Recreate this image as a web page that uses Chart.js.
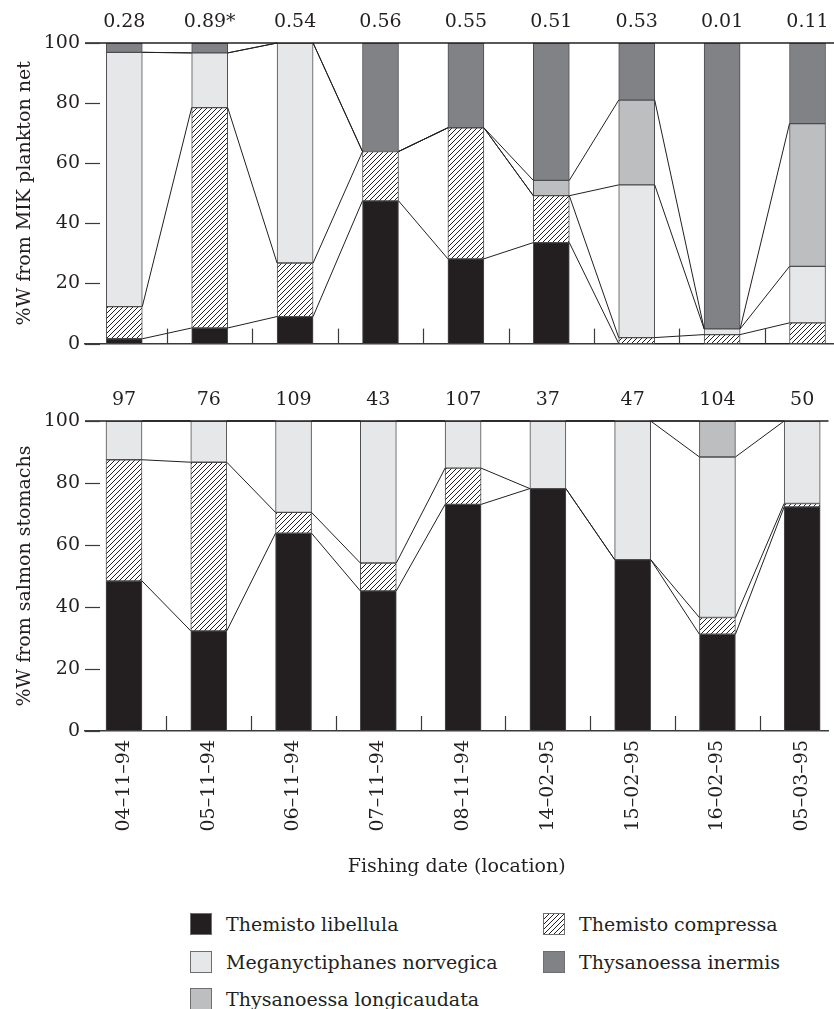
<!DOCTYPE html>
<html><head><meta charset="utf-8">
<script src="https://cdn.jsdelivr.net/npm/chart.js@4"></script>
<style>
html,body{margin:0;padding:0;background:#fff;}
#wrap{position:relative;width:834px;height:1009px;overflow:hidden;font-family:"DejaVu Serif",serif;color:#231f20;}
#top{position:absolute;left:0;top:0;width:834px;height:360px;}
#bot{position:absolute;left:0;top:360px;width:834px;height:520px;}
.li{position:absolute;display:flex;align-items:center;font-size:19px;white-space:nowrap;height:22px;}
.sw{box-sizing:border-box;width:22px;height:22px;border:1px solid #6d6e71;margin-right:14px;flex:none;}
</style></head>
<body><div id="wrap">
<div id="top"><canvas id="c1"></canvas></div>
<div id="bot"><canvas id="c2"></canvas></div>
<div id="legend"></div>
</div>
<script>
// ---- data ----
const dates = ['04–11–94','05–11–94','06–11–94','07–11–94','08–11–94','14–02–95','15–02–95','16–02–95','05–03–95'];
const species = ['Themisto libellula','Themisto compressa','Meganyctiphanes norvegica','Thysanoessa longicaudata','Thysanoessa inermis'];
// MIK plankton net (%W)
const netLibellula   = [1.6, 5.2, 9.0, 47.5, 28.2, 33.6, 0, 0, 0];
const netCompressa   = [10.7, 73.3, 17.8, 16.4, 43.6, 15.6, 2.0, 3.0, 6.9];
const netMeganyct    = [84.6, 18.2, 73.2, 0, 0, 0, 50.8, 1.9, 18.8];
const netLongicaud   = [0, 0, 0, 0, 0, 5.1, 28.2, 0, 47.5];
const netInermis     = [3.1, 3.3, 0, 36.1, 28.2, 45.7, 19.0, 95.1, 26.8];
const netTotals      = ['0.28','0.89*','0.54','0.56','0.55','0.51','0.53','0.01','0.11'];
// salmon stomachs (%W)
const stoLibellula   = [48.4, 32.3, 63.8, 45.2, 73.1, 78.2, 55.3, 31.2, 72.3];
const stoCompressa   = [39.1, 54.4, 6.7, 9.0, 11.7, 0, 0, 5.4, 1.1];
const stoMeganyct    = [12.5, 13.3, 29.5, 45.8, 15.2, 21.8, 44.7, 51.8, 26.6];
const stoLongicaud   = [0, 0, 0, 0, 0, 0, 0, 11.6, 0];
const stoInermis     = [0, 0, 0, 0, 0, 0, 0, 0, 0];
const stoCounts      = ['97','76','109','43','107','37','47','104','50'];
const yTicks = [0, 20, 40, 60, 80, 100];

// ---- styles ----
const INK = '#231f20';
const FONT = '"DejaVu Serif", serif';
const FS = 19;
const BAR = 36;
const XMIN = -0.46, XMAX = 8.31;

function hatchPattern(){
  const c = document.createElement('canvas'); c.width = c.height = 5;
  const g = c.getContext('2d');
  g.fillStyle = '#fff'; g.fillRect(0,0,5,5);
  g.strokeStyle = INK; g.lineWidth = 1;
  g.beginPath();
  g.moveTo(-1,6); g.lineTo(6,-1);
  g.moveTo(-1,1); g.lineTo(1,-1);
  g.moveTo(4,6); g.lineTo(6,4);
  g.stroke();
  return g.createPattern(c,'repeat');
}
const HATCH = hatchPattern();
const colors = [INK, HATCH, '#e6e7e8', '#bcbec0', '#808285'];

Chart.defaults.font.family = FONT;
Chart.defaults.color = INK;

const frame = {
  id: 'frame',
  afterDatasetsDraw(chart){
    const {ctx, chartArea:a, scales:{x, y}} = chart;
    ctx.save();
    ctx.strokeStyle = INK; ctx.lineWidth = 1;
    // connectors between bars
    const sets = chart.data.datasets;
    for (let s = 0; s < sets.length - 1; s++){
      const cum = k => sets.slice(0, s+1).reduce((acc, d) => acc + (d.values[k] || 0), 0);
      for (let i = 0; i < chart.data.labels.length - 1; i++){
        ctx.beginPath();
        ctx.moveTo(x.getPixelForValue(i) + BAR/2, y.getPixelForValue(cum(i)));
        ctx.lineTo(x.getPixelForValue(i+1) - BAR/2, y.getPixelForValue(cum(i+1)));
        ctx.stroke();
      }
    }
    // top border
    ctx.lineWidth = 1.3;
    ctx.beginPath(); ctx.moveTo(a.left, a.top); ctx.lineTo(a.right, a.top); ctx.stroke();
    // inward ticks
    ctx.strokeStyle = '#3a3a3a'; ctx.lineWidth = 1.2;
    yTicks.forEach(v => { const py = Math.round(y.getPixelForValue(v)) + 0.5;
      ctx.beginPath(); ctx.moveTo(a.left, py); ctx.lineTo(a.left + 15, py); ctx.stroke(); });
    for (let i = 0; i < chart.data.labels.length - 1; i++){
      const px = Math.round(x.getPixelForValue(i + 0.5)) + 0.5;
      ctx.beginPath(); ctx.moveTo(px, a.bottom); ctx.lineTo(px, a.bottom - 15); ctx.stroke();
    }
    ctx.restore();
  },
  afterDraw(chart, args, opts){
    const {ctx, chartArea:a, scales:{x}} = chart;
    ctx.save();
    ctx.font = FS + 'px ' + FONT; ctx.fillStyle = INK;
    ctx.textAlign = 'center'; ctx.textBaseline = 'middle';
    opts.labels.forEach((t, i) => ctx.fillText(t, x.getPixelForValue(i), a.top - 21));
    ctx.restore();
  }
};

function makeChart(id, arrays, totals, yTitle, showX, padTop, xHeight){
  const datasets = arrays.map((arr, s) => ({
    label: species[s],
    values: arr,
    data: arr.map((v, i) => ({x: i, y: v > 0 ? v : null})),
    backgroundColor: colors[s],
    borderColor: '#4d4d4f',
    borderWidth: 1,
    borderSkipped: false,
    barThickness: BAR
  }));
  return new Chart(document.getElementById(id), {
    type: 'bar',
    data: { labels: dates, datasets },
    options: {
      responsive: true, maintainAspectRatio: false, animation: false,
      devicePixelRatio: 1,
      layout: { padding: { top: padTop, right: 0, left: 0, bottom: 0 } },
      plugins: { legend: { display: false }, tooltip: { enabled: false }, frame: { labels: totals } },
      scales: {
        x: {
          type: 'linear', min: XMIN, max: XMAX, stacked: true, offset: false,
          afterBuildTicks: sc => { sc.ticks = dates.map((d, i) => ({ value: i })); },
          afterFit: sc => { sc.height = xHeight; },
          grid: { display: false, drawTicks: false },
          border: { display: true, color: '#3a3a3a', width: 1.5 },
          ticks: { display: showX, autoSkip: false, minRotation: 90, maxRotation: 90, padding: 9,
                   font: { size: FS }, color: INK, callback: v => dates[v] },
          title: { display: showX, text: 'Fishing date (location)', font: { size: FS }, color: INK,
                   padding: { top: 0, bottom: 2 } }
        },
        y: {
          stacked: true, min: 0, max: 100,
          afterBuildTicks: sc => { sc.ticks = yTicks.map(v => ({ value: v })); },
          afterFit: sc => { sc.width = 85; },
          grid: { display: false, drawTicks: false },
          border: { display: false },
          ticks: { padding: 5, font: { size: FS }, color: INK },
          title: { display: true, text: yTitle, font: { size: FS }, color: INK, padding: { top: 14, bottom: 0 } }
        }
      }
    },
    plugins: [frame]
  });
}

makeChart('c1', [netLibellula, netCompressa, netMeganyct, netLongicaud, netInermis], netTotals,
  '%W from MIK plankton net', false, 43, 12);
makeChart('c2', [stoLibellula, stoCompressa, stoMeganyct, stoLongicaud, stoInermis], stoCounts,
  '%W from salmon stomachs', true, 61, 149);

// ---- legend (built from species / colors) ----
const legendOrder = [0, 1, 2, 4, 3];
const colX = [190, 543], rowY = [913, 950.5, 988];
const leg = document.getElementById('legend');
legendOrder.forEach((s, k) => {
  const item = document.createElement('div');
  item.className = 'li';
  item.style.left = colX[k % 2] + 'px';
  item.style.top = rowY[Math.floor(k / 2)] + 'px';
  const sw = document.createElement('canvas');
  sw.className = 'sw'; sw.width = 20; sw.height = 20;
  const g = sw.getContext('2d'); g.fillStyle = colors[s]; g.fillRect(0, 0, 20, 20);
  const t = document.createElement('span'); t.textContent = species[s];
  item.appendChild(sw); item.appendChild(t);
  leg.appendChild(item);
});
</script>
</body></html>
